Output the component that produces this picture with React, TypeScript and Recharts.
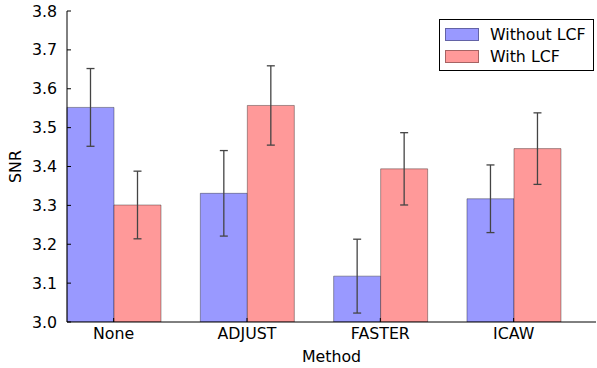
import React from 'react';
import { BarChart, Bar, XAxis, YAxis, ErrorBar, Legend } from 'recharts';

// ─── Data ─────────────────────────────────────────────────────────────────────

const methods = ['None', 'ADJUST', 'FASTER', 'ICAW'];
const withoutLcf = [3.552, 3.331, 3.118, 3.317];
const withoutLcfErr = [0.1, 0.11, 0.095, 0.087];
const withLcf = [3.301, 3.557, 3.394, 3.446];
const withLcfErr = [0.087, 0.102, 0.093, 0.092];
const yTicks = [3.0, 3.1, 3.2, 3.3, 3.4, 3.5, 3.6, 3.7, 3.8];

const BLUE = '#9999ff';
const RED = '#ff9999';
const FONT = '"DejaVu Sans", sans-serif';
const FS = 15.8;

const rows = methods.map((m, i) => ({
  method: m,
  without: withoutLcf[i],
  withoutErr: withoutLcfErr[i],
  with: withLcf[i],
  withErr: withLcfErr[i],
}));

// ─── Legend ───────────────────────────────────────────────────────────────────

function LegendBox() {
  const items = [
    { label: 'Without LCF', color: BLUE },
    { label: 'With LCF', color: RED },
  ];
  return (
    <div
      style={{
        border: '1px solid #000',
        background: '#fff',
        padding: '3px 0 2px 5px',
        fontFamily: FONT,
        fontSize: FS,
        color: '#000',
        boxSizing: 'border-box',
        width: 155,
        height: 52,
        whiteSpace: 'nowrap',
      }}
    >
      {items.map((it) => (
        <div key={it.label} style={{ display: 'flex', alignItems: 'center', height: 22.5 }}>
          <span
            style={{
              display: 'inline-block',
              width: 32,
              height: 11,
              background: it.color,
              border: '1px solid rgba(0,0,0,0.35)',
              marginRight: 11,
            }}
          />
          <span>{it.label}</span>
        </div>
      ))}
    </div>
  );
}

const noLabel = () => <g />;

// ─── Chart ────────────────────────────────────────────────────────────────────

export default function App() {
  const tickStyle = { fontSize: FS, fill: '#000', fontFamily: FONT };
  return (
    <div style={{ position: 'absolute', left: 0, top: 0, background: '#fff' }}>
      <BarChart
        width={597}
        height={368}
        data={rows}
        margin={{ top: 11, right: 1, bottom: 0, left: 0 }}
        barCategoryGap={20}
        barGap={0}
      >
        <XAxis
          dataKey="method"
          padding={{ left: -20, right: 15.7 }}
          height={46}
          stroke="#000"
          tickSize={-4}
          tickMargin={10}
          tick={tickStyle}
          label={{ value: 'Method', position: 'center', dy: 11, fontSize: FS, fill: '#000', fontFamily: FONT }}
        />
        <XAxis
          xAxisId="top"
          orientation="top"
          dataKey="method"
          padding={{ left: -20, right: 15.7 }}
          height={0}
          stroke="#000"
          tickSize={-4}
          tick={noLabel}
        />
        <YAxis
          domain={[3.0, 3.8]}
          ticks={yTicks}
          tickFormatter={(v: number) => v.toFixed(1)}
          width={67}
          stroke="#000"
          tickSize={-4}
          tickMargin={14}
          tick={tickStyle}
          allowDataOverflow
          label={{ value: 'SNR', angle: -90, position: 'center', dx: -18, fontSize: FS, fill: '#000', fontFamily: FONT }}
        />
        <YAxis
          yAxisId="right"
          orientation="right"
          domain={[3.0, 3.8]}
          ticks={yTicks}
          width={0}
          stroke="#000"
          tickSize={-4}
          tick={noLabel}
          allowDataOverflow
        />
        <Legend
          layout="vertical"
          align="center"
          verticalAlign="middle"
          wrapperStyle={{ left: 439, top: 19, width: 155 }}
          content={() => <LegendBox />}
        />
        <Bar
          dataKey="without"
          name="Without LCF"
          fill={BLUE}
          stroke="#000"
          strokeOpacity={0.35}
          strokeWidth={1}
          isAnimationActive={false}
        >
          <ErrorBar dataKey="withoutErr" width={4} stroke="#444" strokeWidth={1.3} />
        </Bar>
        <Bar
          dataKey="with"
          name="With LCF"
          fill={RED}
          stroke="#000"
          strokeOpacity={0.35}
          strokeWidth={1}
          isAnimationActive={false}
        >
          <ErrorBar dataKey="withErr" width={4} stroke="#444" strokeWidth={1.3} />
        </Bar>
      </BarChart>
    </div>
  );
}
